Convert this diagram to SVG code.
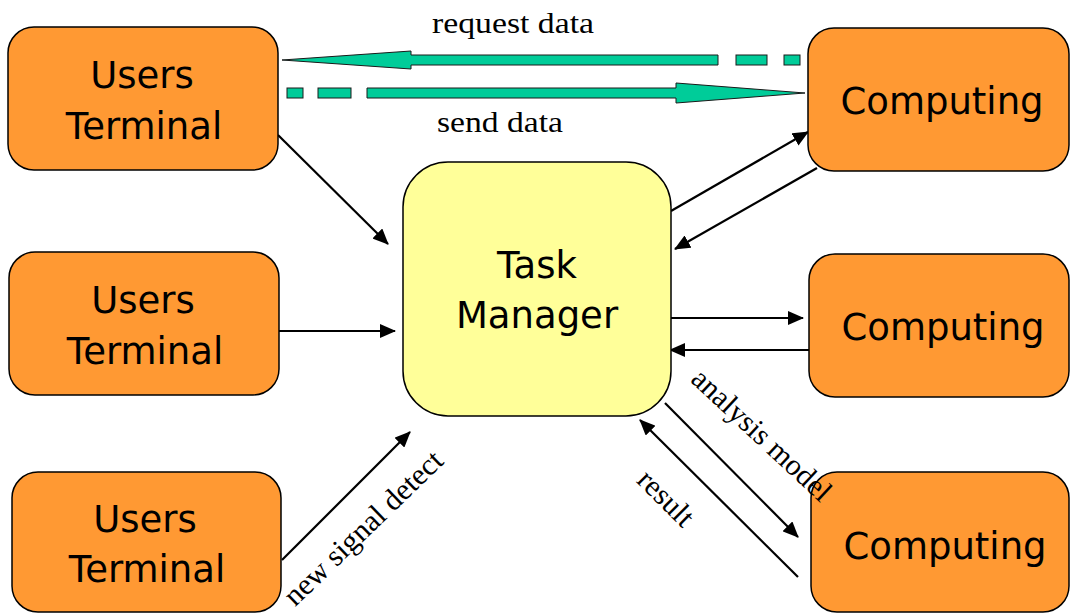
<svg xmlns="http://www.w3.org/2000/svg" width="1070" height="613" viewBox="0 0 1070 613">
<style>
.term{fill:#FF9933;stroke:#000;stroke-width:1.5}
.tm{fill:#FFFF99;stroke:#000;stroke-width:1.5}
.lbl{font-family:"DejaVu Sans",Verdana,sans-serif;font-size:37px;fill:#000;text-anchor:middle}
.ser{font-family:"Liberation Serif","Times New Roman",serif;font-size:29px;fill:#000}
.rot{font-size:30px;text-anchor:middle}
.arr{stroke:#000;stroke-width:2.2;fill:none;marker-end:url(#ah)}
.teal{fill:#00CC99;stroke:#1a1a1a;stroke-width:1}
</style>
<defs>
<marker id="ah" markerWidth="16" markerHeight="14" refX="15" refY="7" orient="auto" markerUnits="userSpaceOnUse">
<path d="M0,0 L16,7 L0,14 Z" fill="#000"/>
</marker>
</defs>
<rect width="1070" height="613" fill="#fff"/>
<g id="connectors">
<g id="request-data">
<polygon class="teal" points="282,60 411,51 411,55 718,55 718,65 411,65 411,69"/>
<rect class="teal" x="736" y="55" width="31" height="10"/>
<rect class="teal" x="784" y="55" width="16" height="10"/>
</g>
<g id="send-data">
<rect class="teal" x="287" y="88" width="16" height="10"/>
<rect class="teal" x="318" y="88" width="33" height="10"/>
<polygon class="teal" points="367,88 676,88 676,83 805,93 676,103 676,98 367,98"/>
</g>
<line class="arr" x1="278" y1="135" x2="388" y2="244"/>
<line class="arr" x1="279" y1="331" x2="395" y2="331"/>
<line class="arr" x1="282" y1="560" x2="410" y2="432"/>
<line class="arr" x1="671" y1="211" x2="808" y2="132"/>
<line class="arr" x1="817" y1="168" x2="675" y2="249"/>
<line class="arr" x1="671" y1="318" x2="803" y2="318"/>
<line class="arr" x1="810" y1="350" x2="670" y2="350"/>
<line class="arr" x1="665" y1="403" x2="798" y2="537"/>
<line class="arr" x1="798" y1="577" x2="640" y2="420"/>
</g>
<g id="users-terminal-1">
<rect class="term" x="8" y="27" width="270" height="143" rx="26"/>
<text class="lbl" x="142" y="88">Users</text>
<text class="lbl" x="144" y="139">Terminal</text>
</g>
<g id="users-terminal-2">
<rect class="term" x="9" y="252" width="270" height="143" rx="26"/>
<text class="lbl" x="143" y="313">Users</text>
<text class="lbl" x="145" y="364">Terminal</text>
</g>
<g id="users-terminal-3">
<rect class="term" x="12" y="472" width="269" height="140" rx="26"/>
<text class="lbl" x="145" y="532">Users</text>
<text class="lbl" x="147" y="582">Terminal</text>
</g>
<g id="task-manager">
<rect class="tm" x="403" y="162" width="268" height="254" rx="45"/>
<text class="lbl" x="537" y="278">Task</text>
<text class="lbl" x="537" y="328">Manager</text>
</g>
<g id="computing-1">
<rect class="term" x="808" y="28" width="261" height="143" rx="26"/>
<text class="lbl" x="942" y="114">Computing</text>
</g>
<g id="computing-2">
<rect class="term" x="809" y="254" width="260" height="143" rx="26"/>
<text class="lbl" x="943" y="340">Computing</text>
</g>
<g id="computing-3">
<rect class="term" x="811" y="472" width="258" height="140" rx="26"/>
<text class="lbl" x="945" y="559">Computing</text>
</g>
<g id="labels">
<text class="ser" x="432" y="33" textLength="162" lengthAdjust="spacingAndGlyphs">request data</text>
<text class="ser" x="437" y="132" textLength="126" lengthAdjust="spacingAndGlyphs">send data</text>
<text class="ser rot" transform="translate(370,535) rotate(-44)">new signal detect</text>
<text class="ser rot" transform="translate(755,442) rotate(43)">analysis model</text>
<text class="ser rot" transform="translate(659,505) rotate(45)">result</text>
</g>
</svg>
